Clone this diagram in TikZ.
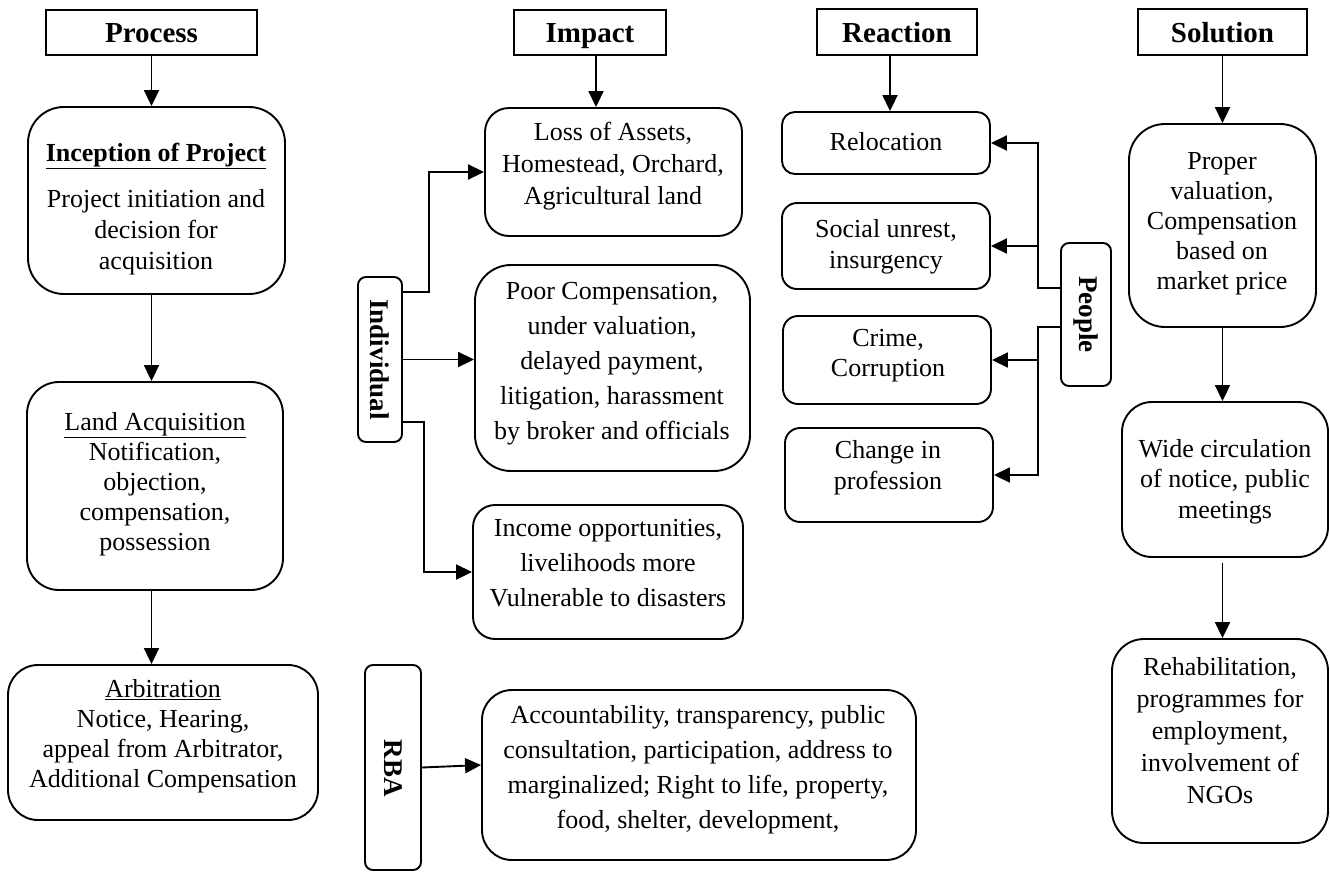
\documentclass[tikz,border=0pt]{standalone}
\usepackage{fontspec}
\setmainfont{Liberation Serif}
\usetikzlibrary{arrows.meta,fit}
\tikzset{
  lw/.style={line width=1.9pt},
  hdr/.style={draw, lw, inner sep=0pt},
  hdrtxt/.style={inner sep=0pt, anchor=base, font=\fontsize{29}{33}\selectfont\bfseries},
  rbox/.style={draw, lw, inner sep=0pt, rounded corners=#1},
  rbox/.default=30pt,
  txt/.style={align=center, inner sep=0pt, anchor=north, font=\fontsize{26}{#1}\selectfont},
  txt/.default=31,
  vlab/.style={rotate=-90, inner sep=0pt, font=\fontsize{27}{30}\selectfont\bfseries},
  arr/.style={lw, -{Triangle[length=16pt,width=15pt]}},
  ln/.style={lw}
}
\newcommand\bx[6]{\node[#6, fit={(#2,#3) (#4,#5)}] (#1) {};}
\begin{document}
\begin{tikzpicture}[x=1pt,y=-1pt]
\useasboundingbox (0,0) rectangle (1330,871);
% headers
\bx{process}{46}{10}{257}{55}{hdr}
\node[hdrtxt] (processT) at (151.5,42) {Process};
\bx{impact}{514}{10}{666}{55}{hdr}
\node[hdrtxt] (impactT) at (590,42) {Impact};
\bx{reaction}{817}{9}{977}{55}{hdr}
\node[hdrtxt] (reactionT) at (897,42) {Reaction};
\bx{solution}{1138}{9}{1307}{55}{hdr}
\node[hdrtxt] (solutionT) at (1222.5,42) {Solution};

% process column
\bx{inception}{28}{107}{285}{294}{rbox=36pt}
\node[txt] (incT) at (156,143) {\textbf{\underline{Inception of Project}}};
\node[txt] (incB) at (156,189) {Project initiation and\\decision for\\acquisition};
\bx{land}{27}{382}{283}{590}{rbox=32pt}
\node[txt=30] (landT) at (155,412) {\underline{Land Acquisition}\\Notification,\\objection,\\compensation,\\possession};
\bx{arb}{8}{665}{318}{820}{rbox=30pt}
\node[txt=30] (arbT) at (163,679) {\underline{Arbitration}\\Notice, Hearing,\\appeal from Arbitrator,\\Additional Compensation};

% impact column
\bx{loss}{485}{108}{742}{236}{rbox=24pt}
\node[txt=32] (lossT) at (613,122) {Loss of Assets,\\Homestead, Orchard,\\Agricultural land};
\bx{poor}{475}{265}{750}{471}{rbox=36pt}
\node[txt=35] (poorT) at (612,282) {Poor Compensation,\\under valuation,\\delayed payment,\\litigation, harassment\\by broker and officials};
\bx{income}{473}{505}{743}{639}{rbox=22pt}
\node[txt=35] (incomeT) at (608,519) {Income opportunities,\\livelihoods more\\Vulnerable to disasters};
\bx{indiv}{358}{277}{402}{442}{rbox=8pt}
\node[vlab] (indivT) at (indiv) {Individual};

\bx{rba}{365}{665}{421}{870}{rbox=8pt}
\node[vlab] (rbaT) at (393,768) {RBA};
\bx{rbabig}{482}{690}{916}{860}{rbox=30pt}
\node[txt=35] (rbabigT) at (698,705) {Accountability, transparency, public\\consultation, participation, address to\\marginalized; Right to life, property,\\food, shelter, development,};

% reaction column
\bx{reloc}{782}{112}{990}{174}{rbox=13pt}
\node[txt] (relocT) at (886,132) {Relocation};
\bx{social}{782}{203}{990}{289}{rbox=15pt}
\node[txt] (socialT) at (886,219) {Social unrest,\\insurgency};
\bx{crime}{783}{316}{991}{404}{rbox=15pt}
\node[txt=30] (crimeT) at (888,329) {Crime,\\Corruption};
\bx{change}{785}{428}{993}{522}{rbox=15pt}
\node[txt] (changeT) at (888,440) {Change in\\profession};
\bx{people}{1061}{243}{1111}{386}{rbox=8pt}
\node[vlab] (peopleT) at (people) {People};

% solution column
\bx{proper}{1129}{124}{1316}{327}{rbox=36pt}
\node[txt=30] (properT) at (1222,152) {Proper\\valuation,\\Compensation\\based on\\market price};
\bx{wide}{1122}{402}{1328}{557}{rbox=30pt}
\node[txt=30.5] (wideT) at (1225,439) {Wide circulation\\of notice, public\\meetings};
\bx{rehab}{1112}{639}{1328}{843}{rbox=32pt}
\node[txt=32] (rehabT) at (1220,657) {Rehabilitation,\\programmes for\\employment,\\involvement of\\NGOs};

% connectors
\draw[arr] (process.south) -- (process.south |- inception.north);
\draw[arr] (process.south |- inception.south) -- (process.south |- land.north);
\draw[arr] (process.south |- land.south) -- (process.south |- arb.north);
\draw[arr] ([xshift=6pt]impact.south) -- ([xshift=6pt]impact.south |- loss.north);
\draw[arr] ([xshift=-7pt]reaction.south) -- ([xshift=-7pt]reaction.south |- reloc.north);
\draw[arr] (solution.south) -- (solution.south |- proper.north);
\draw[arr] (solution.south |- proper.south) -- (solution.south |- wide.north);
\draw[arr] ([yshift=-5pt]solution.south |- wide.south) -- (solution.south |- rehab.north);

\draw[arr] ([yshift=-16pt]indiv.north east) -- ++(26,0) |- (loss.west);
\draw[arr] (indiv.east) -- (indiv.east -| poor.west);
\draw[arr] ([yshift=21pt]indiv.south east) -- ++(21,0) |- (income.west);
\draw[arr] (rba.east) -- (rbabig.west |- 0,765);

\coordinate (pj) at (1038,0);
\draw[arr] ([yshift=-46pt]people.north west) -| (pj |- reloc.east) -- (reloc.east);
\draw[arr] (pj |- social.east) -- (social.east);
\draw[arr] ([yshift=-85pt]people.north west) -| (pj |- change.east) -- (change.east);
\draw[arr] (pj |- crime.east) -- (crime.east);
\end{tikzpicture}
\end{document}
